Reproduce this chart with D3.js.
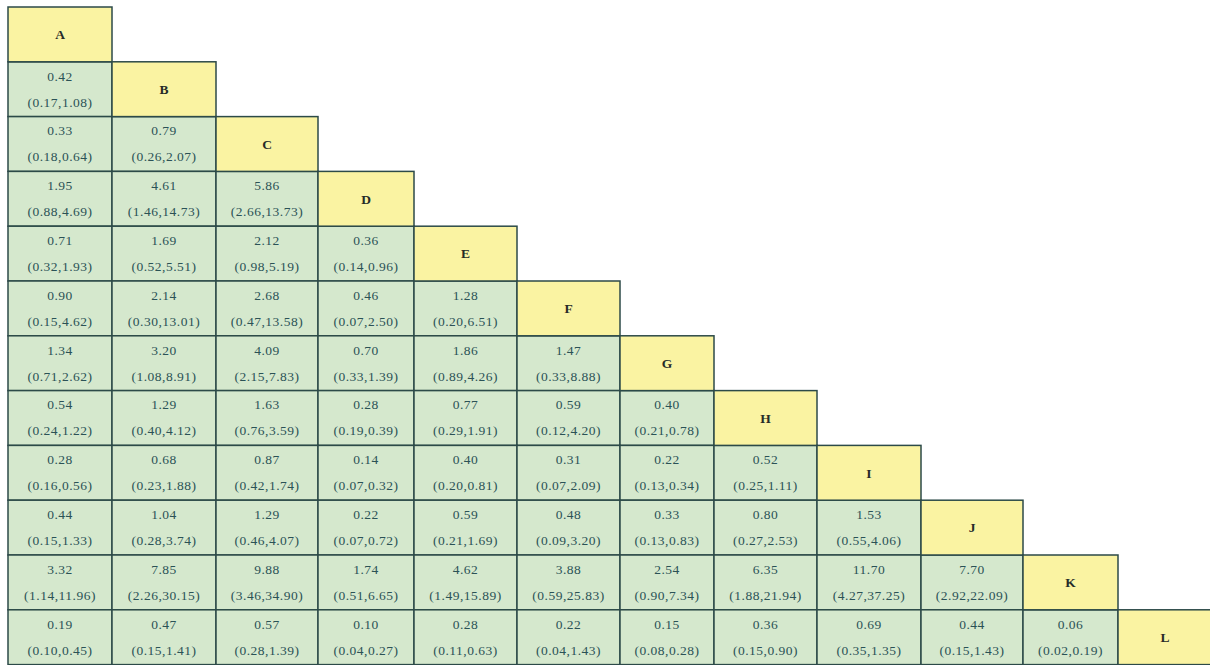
<!DOCTYPE html>
<html>
<head>
<meta charset="utf-8">
<script src="https://cdn.jsdelivr.net/npm/d3@7"></script>
<style>
  html, body { margin: 0; padding: 0; background: #ffffff; }
  svg text { font-family: 'Liberation Serif', 'Times New Roman', serif; }
</style>
</head>
<body>
<div id="chart"></div>
<script>
"use strict";
// treatment labels on the diagonal
const labels = ['A', 'B', 'C', 'D', 'E', 'F', 'G', 'H', 'I', 'J', 'K', 'L'];
// lower triangle: row i (i>=1), column j < i
const estimates = [
    [],
    [0.42],
    [0.33, 0.79],
    [1.95, 4.61, 5.86],
    [0.71, 1.69, 2.12, 0.36],
    [0.90, 2.14, 2.68, 0.46, 1.28],
    [1.34, 3.20, 4.09, 0.70, 1.86, 1.47],
    [0.54, 1.29, 1.63, 0.28, 0.77, 0.59, 0.40],
    [0.28, 0.68, 0.87, 0.14, 0.40, 0.31, 0.22, 0.52],
    [0.44, 1.04, 1.29, 0.22, 0.59, 0.48, 0.33, 0.80, 1.53],
    [3.32, 7.85, 9.88, 1.74, 4.62, 3.88, 2.54, 6.35, 11.70, 7.70],
    [0.19, 0.47, 0.57, 0.10, 0.28, 0.22, 0.15, 0.36, 0.69, 0.44, 0.06]
];
const lowers = [
    [],
    [0.17],
    [0.18, 0.26],
    [0.88, 1.46, 2.66],
    [0.32, 0.52, 0.98, 0.14],
    [0.15, 0.30, 0.47, 0.07, 0.20],
    [0.71, 1.08, 2.15, 0.33, 0.89, 0.33],
    [0.24, 0.40, 0.76, 0.19, 0.29, 0.12, 0.21],
    [0.16, 0.23, 0.42, 0.07, 0.20, 0.07, 0.13, 0.25],
    [0.15, 0.28, 0.46, 0.07, 0.21, 0.09, 0.13, 0.27, 0.55],
    [1.14, 2.26, 3.46, 0.51, 1.49, 0.59, 0.90, 1.88, 4.27, 2.92],
    [0.10, 0.15, 0.28, 0.04, 0.11, 0.04, 0.08, 0.15, 0.35, 0.15, 0.02]
];
const uppers = [
    [],
    [1.08],
    [0.64, 2.07],
    [4.69, 14.73, 13.73],
    [1.93, 5.51, 5.19, 0.96],
    [4.62, 13.01, 13.58, 2.50, 6.51],
    [2.62, 8.91, 7.83, 1.39, 4.26, 8.88],
    [1.22, 4.12, 3.59, 0.39, 1.91, 4.20, 0.78],
    [0.56, 1.88, 1.74, 0.32, 0.81, 2.09, 0.34, 1.11],
    [1.33, 3.74, 4.07, 0.72, 1.69, 3.20, 0.83, 2.53, 4.06],
    [11.96, 30.15, 34.90, 6.65, 15.89, 25.83, 7.34, 21.94, 37.25, 22.09],
    [0.45, 1.41, 1.39, 0.27, 0.63, 1.43, 0.28, 0.90, 1.35, 1.43, 0.19]
];

// table layout (column widths are uneven, like the source table)
const colWidths = [104, 104, 102, 96, 103, 103, 94, 103, 104, 102, 95, 94];
const tableLeft = 8, tableTop = 7, rowH = 54.8;
const width = 1210, height = 665;

const colEdges = [tableLeft];
colWidths.forEach(function (w) { colEdges.push(colEdges[colEdges.length - 1] + w); });

const x = d3.scaleOrdinal().domain(labels).range(colEdges.slice(0, labels.length));
const y = d3.scaleBand().domain(labels).range([tableTop, tableTop + rowH * labels.length]).padding(0);
const wOf = function (lab) { return colWidths[labels.indexOf(lab)]; };

const fmt = d3.format('.2f');
const cells = [];
labels.forEach(function (rowLab, i) {
    for (let j = 0; j < i; j++) {
        cells.push({
            row: rowLab, col: labels[j],
            est: estimates[i][j], lo: lowers[i][j], hi: uppers[i][j]
        });
    }
});

const colors = { diag: '#faf3a2', cell: '#d5e8cd', border: '#2c4a48', text: '#2b5256', label: '#262b28' };

const svg = d3.select('#chart')
    .append('svg')
    .attr('width', width)
    .attr('height', height)
    .attr('viewBox', '0 0 ' + width + ' ' + height);

// comparison cells
const g = svg.selectAll('g.cell')
    .data(cells)
    .enter()
    .append('g')
    .attr('class', 'cell')
    .attr('transform', function (d) { return 'translate(' + x(d.col) + ',' + y(d.row) + ')'; });

g.append('rect')
    .attr('width', function (d) { return wOf(d.col); })
    .attr('height', y.bandwidth())
    .attr('fill', colors.cell)
    .attr('stroke', colors.border)
    .attr('stroke-width', 1.5);

g.append('text')
    .attr('x', function (d) { return wOf(d.col) / 2; })
    .attr('y', 14)
    .attr('dy', '0.35em')
    .attr('text-anchor', 'middle')
    .attr('fill', colors.text)
    .style('font-size', '13.5px')
    .style('letter-spacing', '0.5px')
    .text(function (d) { return fmt(d.est); });

g.append('text')
    .attr('x', function (d) { return wOf(d.col) / 2; })
    .attr('y', 40)
    .attr('dy', '0.35em')
    .attr('text-anchor', 'middle')
    .attr('fill', colors.text)
    .style('font-size', '13.5px')
    .style('letter-spacing', '0.5px')
    .text(function (d) { return '(' + fmt(d.lo) + ',' + fmt(d.hi) + ')'; });

// diagonal labels
const dg = svg.selectAll('g.diag')
    .data(labels)
    .enter()
    .append('g')
    .attr('class', 'diag')
    .attr('transform', function (d) { return 'translate(' + x(d) + ',' + y(d) + ')'; });

dg.append('rect')
    .attr('width', function (d) { return wOf(d); })
    .attr('height', y.bandwidth())
    .attr('fill', colors.diag)
    .attr('stroke', colors.border)
    .attr('stroke-width', 1.5);

dg.append('text')
    .attr('x', function (d) { return wOf(d) / 2; })
    .attr('y', y.bandwidth() / 2)
    .attr('dy', '0.35em')
    .attr('text-anchor', 'middle')
    .attr('fill', colors.label)
    .style('font-size', '13.5px')
    .style('font-weight', 'bold')
    .text(function (d) { return d; });
</script>
</body>
</html>
